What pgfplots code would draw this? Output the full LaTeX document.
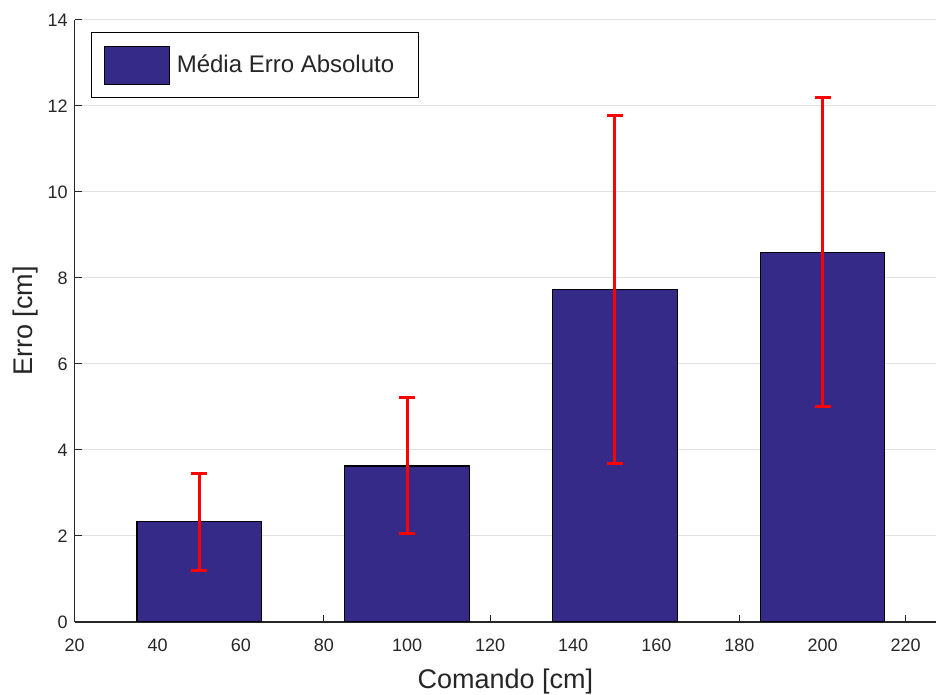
\documentclass[border=0pt]{standalone}
\usepackage{pgfplots}
\pgfplotsset{compat=1.18}
\usepackage{fontspec}
\setmainfont{Liberation Sans}
\definecolor{barblue}{RGB}{53,42,135}
\definecolor{gridgray}{RGB}{225,225,225}
\definecolor{axgray}{RGB}{38,38,38}
\begin{document}
\begin{tikzpicture}
\begin{axis}[
  name=ax,
  scale only axis,
  width=430.7pt, height=301pt,
  xmin=20, xmax=227.3, ymin=0, ymax=14,
  axis x line*=bottom, axis y line*=left,
  axis line style={axgray, line width=0.6pt},
  xtick={20,40,...,220}, ytick={0,2,...,14},
  tick align=inside, major tick length=3.5pt,
  tick style={axgray, line width=0.5pt},
  ymajorgrids, grid style={gridgray, line width=0.5pt},
  /pgf/number format/assume math mode=true,
  ticklabel style={font=\fontsize{9}{10}\selectfont, text=axgray},
  xticklabel style={yshift=-5pt},
  xlabel={Comando [cm]}, ylabel={Erro [cm]},
  label style={font=\fontsize{13.5}{15}\selectfont, text=axgray},
  xlabel style={yshift=-1.5pt},
  ylabel style={yshift=-2pt},
  legend style={at={(0.019,0.98)}, anchor=north west, draw=black, line width=0.6pt,
    font=\fontsize{12}{14}\selectfont, text=axgray, inner xsep=6pt, inner ysep=6.5pt,
    cells={anchor=west}},
  legend image code/.code={\draw[#1, fill=barblue, draw=black, line width=0.6pt] (0pt,-9.5pt) rectangle (32.5pt,9.5pt);},
]
\addplot[ybar, bar width=30, fill=barblue, draw=black, line width=0.6pt] coordinates {
  (50,2.33) (100,3.63) (150,7.73) (200,8.60)
};
\addlegendentry{\hspace{1.5pt}Média Erro Absoluto\rule{4pt}{0pt}}
\addplot[draw=none, forget plot,
  error bars/.cd, y dir=both, y explicit,
  error bar style={red, line width=1.5pt},
  error mark options={red, line width=1.5pt, mark size=4pt, rotate=90}]
  coordinates {
  (50,2.33) +- (0,1.13)
  (100,3.63) +- (0,1.58)
  (150,7.73) +- (0,4.04)
  (200,8.60) +- (0,3.59)
};
\end{axis}
\pgfresetboundingbox
\path ([shift={(-37.3pt,-36.5pt)}]ax.south west) rectangle ([shift={(0pt,10pt)}]ax.north east);
\end{tikzpicture}
\end{document}
